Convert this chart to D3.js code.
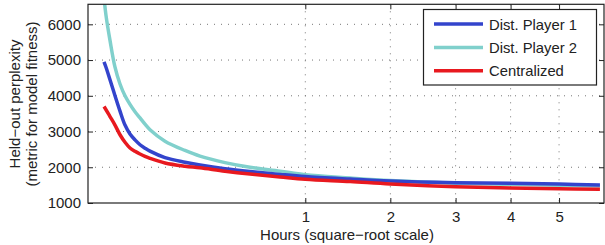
<!DOCTYPE html>
<html>
<head>
<meta charset="utf-8">
<script src="https://cdn.jsdelivr.net/npm/d3@7"></script>
<style>
  body { margin: 0; background: #fff; }
  text { font-family: "Liberation Sans", Arial, sans-serif; fill: #222; }
</style>
</head>
<body>
<script>
'use strict';

// time points (hours) shared by all series
const hours = [0.00038, 0.00085, 0.00237, 0.00534, 0.00949, 0.01483, 0.02135, 0.02906, 0.038,
  0.04805, 0.0593, 0.1002, 0.1714, 0.2373, 0.3707, 0.534, 0.769, 1.0, 1.486, 2.0, 3.0, 4.0, 5.0, 5.93];

const player1 = [4950, 4800, 4450, 4000, 3570, 3180, 2930, 2765, 2630, 2533, 2450, 2270, 2140, 2064,
  1960, 1880, 1800, 1740, 1670, 1616, 1569, 1552, 1530, 1504];
const player2 = [6750, 6250, 5550, 4800, 4330, 4000, 3760, 3555, 3380, 3205, 3050, 2730, 2470, 2310,
  2130, 2000, 1890, 1790, 1700, 1630, 1555, 1525, 1500, 1476];
const central = [3700, 3610, 3420, 3180, 2910, 2700, 2540, 2445, 2370, 2305, 2250, 2120, 2030, 1985,
  1890, 1810, 1730, 1665, 1600, 1532, 1457, 1420, 1400, 1384];

const seriesNames = ['Dist. Player 1', 'Dist. Player 2', 'Centralized'];
const seriesColors = ['#3344cc', '#80d0cc', '#e8191f'];
const xTicks = [1, 2, 3, 4, 5];
const yTicks = [1000, 2000, 3000, 4000, 5000, 6000];

(function() {
  const W = 605, H = 245;
  const pLeft = 88, pRight = 604, pTop = 4.3, pBottom = 203;
  const fontSize = '15px';

  let svg = d3.select('body').append('svg')
    .attr('width', W)
    .attr('height', H);

  // square-root x scale (sign-preserving so the frame can start just left of 0)
  let xScale = d3.scaleSqrt()
    .domain([-0.00342, 6.027])
    .range([pLeft, pRight]);

  let yScale = d3.scaleLinear()
    .domain([1000, 6560])
    .range([pBottom, pTop]);

  // dotted grid
  svg.append('g').selectAll('line')
    .data(yTicks.slice(1))
    .enter().append('line')
    .attr('x1', pLeft).attr('x2', pRight)
    .attr('y1', d => yScale(d)).attr('y2', d => yScale(d))
    .attr('stroke', '#777')
    .attr('stroke-dasharray', '1,6');

  svg.append('g').selectAll('line')
    .data(xTicks)
    .enter().append('line')
    .attr('x1', d => xScale(d)).attr('x2', d => xScale(d))
    .attr('y1', pTop).attr('y2', pBottom)
    .attr('stroke', '#777')
    .attr('stroke-dasharray', '1,6');

  // lines
  svg.append('clipPath').attr('id', 'plotclip')
    .append('rect')
    .attr('x', pLeft).attr('y', pTop)
    .attr('width', pRight - pLeft).attr('height', pBottom - pTop);

  let line = d3.line()
    .x((d, i) => xScale(hours[i]))
    .y(d => yScale(d))
    .curve(d3.curveCatmullRom.alpha(0.5));

  let allSeries = [player1, player2, central];
  // draw order: cyan under blue under red
  [1, 0, 2].forEach(k => {
    svg.append('path')
      .datum(allSeries[k])
      .attr('clip-path', 'url(#plotclip)')
      .attr('fill', 'none')
      .attr('stroke', seriesColors[k])
      .attr('stroke-width', 3.5)
      .attr('d', line);
  });

  // axes: ticks inward on all four sides
  let axisColor = '#222';
  let fmt = d3.format('d');
  svg.append('g')
    .attr('transform', `translate(0,${pBottom})`)
    .call(d3.axisBottom(xScale).tickValues(xTicks).tickFormat(fmt)
      .tickSizeInner(-5).tickSizeOuter(0).tickPadding(8));
  svg.append('g')
    .attr('transform', `translate(${pLeft},0)`)
    .call(d3.axisLeft(yScale).tickValues(yTicks).tickFormat(fmt)
      .tickSizeInner(-5).tickSizeOuter(0).tickPadding(7));
  svg.append('g')
    .attr('transform', `translate(0,${pTop})`)
    .call(d3.axisTop(xScale).tickValues(xTicks).tickSizeInner(-5).tickSizeOuter(0).tickFormat(''));
  svg.append('g')
    .attr('transform', `translate(${pRight},0)`)
    .call(d3.axisRight(yScale).tickValues(yTicks).tickSizeInner(-5).tickSizeOuter(0).tickFormat(''));

  svg.selectAll('.domain').remove();
  svg.selectAll('.tick line').attr('stroke', axisColor);
  svg.selectAll('.tick text')
    .style('font-size', fontSize)
    .attr('fill', '#222');

  // frame
  svg.append('rect')
    .attr('x', pLeft).attr('y', pTop)
    .attr('width', pRight - pLeft).attr('height', pBottom - pTop)
    .attr('fill', 'none')
    .attr('stroke', axisColor)
    .attr('stroke-width', 1.2);

  // axis labels
  svg.append('text')
    .attr('x', 347)
    .attr('y', 240)
    .attr('text-anchor', 'middle')
    .style('font-size', fontSize)
    .text('Hours (square\u2212root scale)');

  svg.append('text')
    .attr('transform', 'translate(20,104)rotate(-90)')
    .attr('text-anchor', 'middle')
    .style('font-size', fontSize)
    .text('Held\u2212out perplexity');

  svg.append('text')
    .attr('transform', 'translate(37,104)rotate(-90)')
    .attr('text-anchor', 'middle')
    .style('font-size', fontSize)
    .text('(metric for model fitness)');

  // legend
  let legend = svg.append('g');
  legend.append('rect')
    .attr('x', 423.5).attr('y', 9.5)
    .attr('width', 173).attr('height', 75.5)
    .attr('fill', '#fff')
    .attr('stroke', axisColor)
    .attr('stroke-width', 1.2);

  let rows = legend.selectAll('g.row')
    .data(seriesNames)
    .enter().append('g')
    .attr('class', 'row')
    .attr('transform', (d, i) => `translate(0,${24 + i * 23.4})`);

  rows.append('line')
    .attr('x1', 434).attr('x2', 483)
    .attr('y1', 0).attr('y2', 0)
    .attr('stroke', (d, i) => seriesColors[i])
    .attr('stroke-width', 3.5);

  rows.append('text')
    .attr('x', 489)
    .attr('y', 5.5)
    .style('font-size', '14.8px')
    .text(d => d);
})();
</script>
</body>
</html>
